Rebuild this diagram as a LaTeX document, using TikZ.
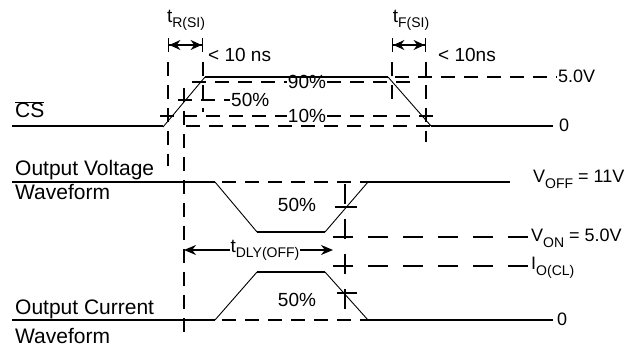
\documentclass[tikz,border=0pt]{standalone}
\usepackage{fontspec}
\setmainfont{Liberation Sans}
\usetikzlibrary{arrows.meta,positioning,calc}
\tikzset{sig/.style={line width=1.8pt},
ramp/.style={line width=0.9pt},
guide/.style={line width=1.8pt, dash pattern=on 14pt off 9pt},
wide guide/.style={line width=1.8pt, dash pattern=on 20pt off 15pt},
lbl/.style={inner sep=1pt, font=\fontsize{19}{21}\selectfont},
volt/.style={inner sep=1pt, anchor=base west, font=\fontsize{18}{20}\selectfont},
big lbl/.style={inner sep=0pt, anchor=base west, font=\fontsize{21}{24}\selectfont},
span/.style={line width=1.4pt, {Bar[width=14pt]Stealth[length=11pt,width=10pt]}-{Stealth[length=11pt,width=10pt]Bar[width=14pt]}},
delay/.style={line width=1.4pt, -{Stealth[length=12pt,width=10pt]}}}
\newcommand{\sbs}[1]{\raisebox{-0.28em}{\fontsize{14}{14}\selectfont #1}}

\begin{document}
\begin{tikzpicture}[x=1pt,y=-1pt]
        \useasboundingbox (0,0) rectangle (629,347);

        % chip select
        \draw[sig] (12,126) -- (163,126);
        \draw[ramp] (163,127) -- (205,77);
        \draw[sig] (205,77) -- (388,77);
        \draw[ramp] (388,77) -- (431,126);
        \draw[sig] (431,126) -- (553,126);

        \node[big lbl] (cs) at (15,118) {$\overline{\mbox{CS}}$};
        \node[volt] (hi) at (557,83) {5.0V};
        \node[volt] (lo) at (558,132) {0};

        \node[lbl] (p90) at (307,82) {90\%};
        \node[lbl] (p10) at (307,116) {10\%};
        \node[lbl, anchor=west] (p50) at (230,100) {50\%};

        \draw[guide] (192,82) -- (p90.west) (p90.east) -- (415,82)
              (160,116) -- (p10.west) (p10.east) -- (442,116)
              (178,100) -- (p50.west)
              (186,126) -- (431,126)
              (395,77) -- (hi.west |- 0,77);

        % rise and fall times
        \coordinate (r1) at (168,45);
        \coordinate (r2) at (203,45);
        \coordinate (f1) at (392,45);
        \coordinate (f2) at (426,45);
        \draw[span] (r1) -- (r2);
        \draw[span] (f1) -- (f2);
        \node[lbl, inner sep=0pt] (tr) at (186,20) {t\sbs{R(SI)}};
        \node[lbl, inner sep=0pt] (tf) at (411,20) {t\sbs{F(SI)}};
        \node[lbl, anchor=base west] (trv) at (207,62) {< 10 ns};
        \node[lbl, anchor=base west] (tfv) at (437,62) {< 10ns};

        \draw[guide] (168,62) -- (168,166)
              (203,62) -- (203,112)
              (392,62) -- (392,102)
              (426,62) -- (426,142)
              (184,88) -- (184,340);

        % output voltage
        \draw[sig] (12,182) -- (215,182);
        \draw[ramp] (215,182) -- (257,232);
        \draw[sig] (257,232) -- (325,232);
        \draw[ramp] (325,232) -- (368,182);
        \draw[sig] (368,182) -- (510,182);
        \draw[guide] (222,182) -- (368,182);
        \draw[sig] (335,207) -- (357,207);

        \node[big lbl] (ov) at (15,176) {Output Voltage};
        \node[big lbl] (ovw) at (15,200) {Waveform};
        \node[lbl] (v50) at (297,205) {50\%};
        \node[volt] (voff) at (532,183) {V\sbs{OFF} = 11V};
        \node[volt] (von) at (530,242) {V\sbs{ON} = 5.0V};
        \node[volt] (iocl) at (530,270) {I\sbs{O(CL)}};

        \draw[wide guide] (333,237) -- (von.west |- 0,237)
              (333,266) -- (iocl.west |- 0,266)
              (345,184) -- (345,322);

        % delay
        \node[lbl, inner sep=0pt] (dly) at (265,250) {t\sbs{DLY(OFF)}};
        \coordinate (d1) at (184,250);
        \coordinate (d2) at (333,250);
        \draw[delay] (dly.west) -- (d1);
        \draw[delay] (dly.east) -- (d2);

        % output current
        \draw[sig] (12,320) -- (215,320);
        \draw[ramp] (215,320) -- (257,272);
        \draw[sig] (257,272) -- (325,272);
        \draw[ramp] (325,272) -- (368,320);
        \draw[sig] (368,320) -- (553,320);
        \draw[guide] (222,320) -- (368,320);
        \draw[sig] (337,293) -- (357,293);

        \node[big lbl] (oc) at (15,315) {Output Current};
        \node[big lbl] (ocw) at (15,343) {Waveform};
        \node[lbl] (i50) at (297,300) {50\%};
        \node[volt] (zero) at (556,326) {0};
\end{tikzpicture}
\end{document}
